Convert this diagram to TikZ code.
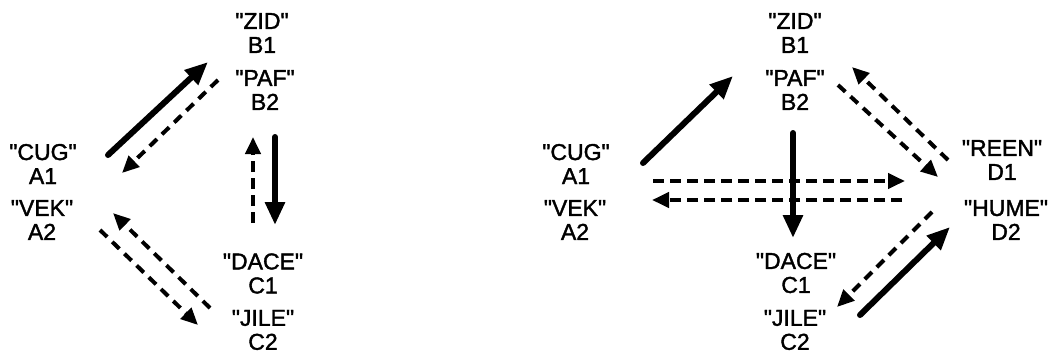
\documentclass[tikz,border=0pt]{standalone}
\usepackage{fontspec}
\newfontfamily\lblfont{Liberation Sans}[FakeBold=1.6, Ligatures=TeXOff]
\usetikzlibrary{arrows.meta}
\tikzset{
  lbl/.style={align=center, inner sep=0pt, font=\fontsize{23}{24}\lblfont},
  solidarr/.style={line width=6pt, line cap=round, -{Triangle[length=23pt,width=19pt]}},
  dasharr/.style={line width=4pt, dash pattern=on 11pt off 6pt, -{Triangle[length=17pt,width=15pt]}},
  diagdash/.style={dasharr, dash pattern=on 10pt off 7pt},
}
\begin{document}
\begin{tikzpicture}[x=1pt,y=-1pt]
\useasboundingbox (0,0) rectangle (1057,357);
% left diagram
\node[lbl] (lA1) at (43,164) {"CUG"\\A1};
\node[lbl] (lA2) at (42,220) {"VEK"\\A2};
\node[lbl] (lB1) at (262,33) {"ZID"\\B1};
\node[lbl] (lB2) at (265,90) {"PAF"\\B2};
\node[lbl] (lC1) at (263,273.5) {"DACE"\\C1};
\node[lbl] (lC2) at (263,330) {"JILE"\\C2};
% right diagram
\node[lbl] (rA1) at (576,164) {"CUG"\\A1};
\node[lbl] (rA2) at (575,220) {"VEK"\\A2};
\node[lbl] (rB1) at (795,33) {"ZID"\\B1};
\node[lbl] (rB2) at (795,90) {"PAF"\\B2};
\node[lbl] (rC1) at (796,273) {"DACE"\\C1};
\node[lbl] (rC2) at (795,330) {"JILE"\\C2};
\node[lbl] (rD1) at (1002,160) {"REEN"\\D1};
\node[lbl] (rD2) at (1006,220) {"HUME"\\D2};
% left connectors
\draw[solidarr] ([shift={(65,-9)}]lA1.center) -- ([shift={(-54,29)}]lB1.center);
\draw[diagdash] ([shift={(-47,-10)}]lB2.center) -- ([shift={(79,9)}]lA1.center);
\draw[solidarr] ([shift={(10,47)}]lB2.center) -- ([shift={(12,-48.5)}]lC1.center);
\draw[dasharr] ([shift={(-10,-50.5)}]lC1.center) -- ([shift={(-12,47)}]lB2.center);
\draw[diagdash] ([shift={(-53,-22)}]lC2.center) -- ([shift={(71,-7)}]lA2.center);
\draw[diagdash] ([shift={(58,10)}]lA2.center) -- ([shift={(-65,-5)}]lC2.center);
% right connectors
\draw[solidarr] ([shift={(67,-1)}]rA1.center) -- ([shift={(-62,43)}]rB1.center);
\draw[dasharr] ([shift={(77,17)}]rA1.center) -- ([shift={(-97,21)}]rD1.center);
\draw[dasharr] ([shift={(-104,-20)}]rD2.center) -- ([shift={(77,-20)}]rA2.center);
\draw[solidarr] ([shift={(-2,43)}]rB2.center) -- ([shift={(-3,-35)}]rC1.center);
\draw[diagdash] ([shift={(43,-5)}]rB2.center) -- ([shift={(-64,17)}]rD1.center);
\draw[diagdash] ([shift={(-54,0)}]rD1.center) -- ([shift={(57,34)}]rB1.center);
\draw[diagdash] ([shift={(-74,-8)}]rD2.center) -- ([shift={(42,-23)}]rC2.center);
\draw[solidarr] ([shift={(65,-15)}]rC2.center) -- ([shift={(-56,7)}]rD2.center);
\end{tikzpicture}
\end{document}
